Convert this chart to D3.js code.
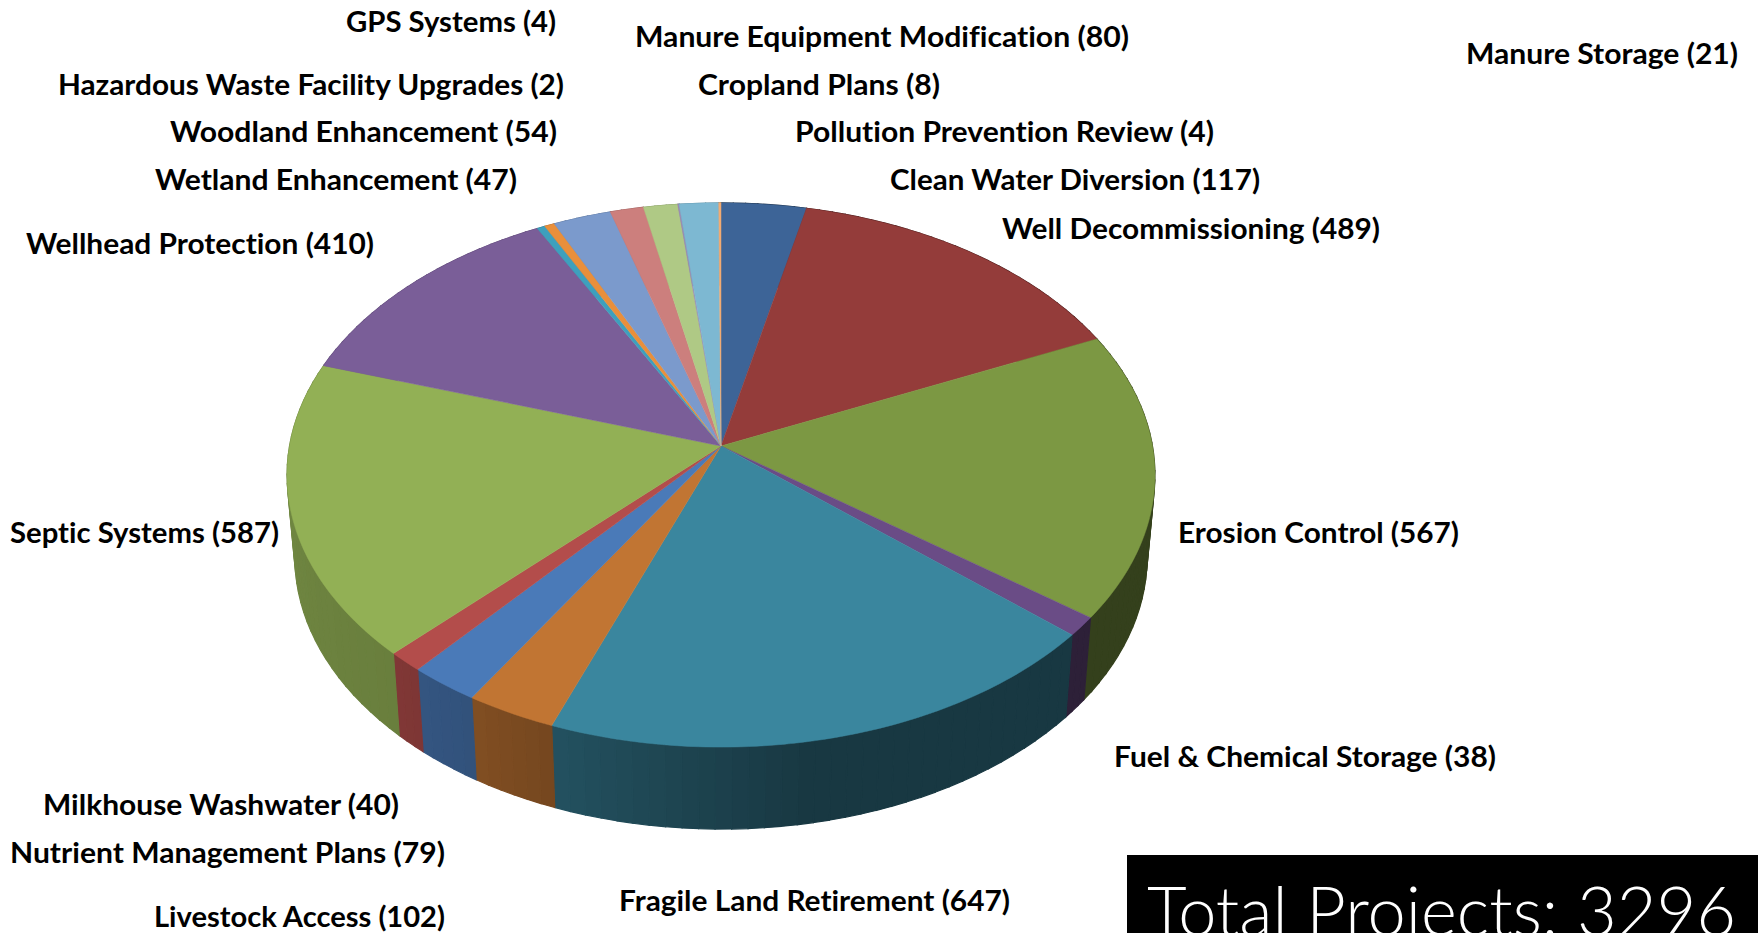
<!DOCTYPE html>
<html><head><meta charset="utf-8">
<script src="https://cdn.jsdelivr.net/npm/d3@7"></script>
<style>html,body{margin:0;padding:0;background:#fff;overflow:hidden}svg{display:block}text{font-variant-ligatures:none}</style>
</head><body><svg id="c" width="1758" height="933"></svg>
<script>
// Wedges clockwise from 12 o'clock: sizes (the wedges do not all agree with the printed counts).
const wedgeValues = [117,489,567,38,647,102,79,40,587,410,11,14,80,46,47,2,54,3];
const wedgeColors = ["#3d6497","#943c3a","#7c9843","#6a4c86","#3a869e","#c17533","#4a7ab8","#b34d4b","#92b055","#7a5e98","#3ea0bd","#e98f3b","#7b9acc","#cc7f7d","#afc985","#9d8ab3","#7db8d2","#f2ab73"];

// Labels exactly as printed
const labelNames = ["GPS Systems","Manure Equipment Modification","Hazardous Waste Facility Upgrades","Cropland Plans","Woodland Enhancement","Pollution Prevention Review","Wetland Enhancement","Clean Water Diversion","Well Decommissioning","Wellhead Protection","Manure Storage","Septic Systems","Erosion Control","Fuel & Chemical Storage","Milkhouse Washwater","Nutrient Management Plans","Livestock Access","Fragile Land Retirement"];
const labelCounts = [4,80,2,8,54,4,47,117,489,410,21,587,567,38,40,79,102,647];
const totalProjects = 3296;

// Layout (separate from the data): left, right, vertical centre of each label
const labelBoxes = [[346,556,23],[635,1129,38],[58,564,86],[698,940,86],[170,557,133],[795,1214,133],[155,517,181],[890,1260,181],[1002,1380,230],[26,374,245],[1466,1738,55],[10,279,534],[1178,1459,534],[1114,1496,758],[43,399,806],[10,445,854],[154,445,918],[619,1010,902]];

const svg = d3.select("#c");
const cx = 721, cy = 446, A = 431.5, B = 269, k = 0.1066, wallDrop = 82, wallShrink = 0.982;

// Perspective view of the pie's circle
function rim(a){
  const u = Math.sin(a), v = -Math.cos(a), w = 1 - k*v;
  return [cx + A*u/w, cy + B*v/w];
}
const low = p => [cx + (p[0]-cx)*wallShrink, p[1] + wallDrop];
const shade = d3.scaleLinear().domain([0,170,200,210,225,260,360]).range([.42,.42,.6,.66,.72,.76,.76]);
const line = d3.line();
const arcs = d3.pie().sort(null).value(d=>d)(wedgeValues);

// Side wall, drawn as narrow facets so shading can vary round the rim
const walls = svg.append("g");
arcs.forEach((d,i)=>{
  const n = Math.max(1, Math.ceil((d.endAngle-d.startAngle)/(Math.PI/90)));
  d3.range(n).forEach(j=>{
    const a0 = d.startAngle + (d.endAngle-d.startAngle)*j/n;
    const a1 = d.startAngle + (d.endAngle-d.startAngle)*(j+1)/n;
    const deg = (a0+a1)/2*180/Math.PI;
    const p0 = rim(a0), p1 = rim(a1);
    const col = d3.interpolateRgb("#000", wedgeColors[i])(shade(deg));
    walls.append("path").attr("d", line([p0,p1,low(p1),low(p0)])+"Z").attr("fill",col).attr("stroke",col).attr("stroke-width",1.2);
  });
});

// Top face
svg.append("g").selectAll("path").data(arcs).join("path")
  .attr("d", d=>{
    const n = Math.max(2, Math.ceil((d.endAngle-d.startAngle)/(Math.PI/180)));
    const pts = [[cx,cy]];
    d3.range(n+1).forEach(j=>pts.push(rim(d.startAngle+(d.endAngle-d.startAngle)*j/n)));
    return line(pts)+"Z";
  })
  .attr("fill",(d,i)=>wedgeColors[i]).attr("stroke",(d,i)=>wedgeColors[i]).attr("stroke-width",.5);

// Labels
svg.append("g").selectAll("text").data(labelNames).join("text")
  .attr("x",(d,i)=>labelBoxes[i][0]).attr("y",(d,i)=>labelBoxes[i][2]+9)
  .attr("textLength",(d,i)=>labelBoxes[i][1]-labelBoxes[i][0]).attr("lengthAdjust","spacingAndGlyphs")
  .attr("font-family","Lato").attr("font-weight",700).attr("font-size",28.5).attr("fill","#000")
  .text((d,i)=>`${d} (${labelCounts[i]})`);

// Total box
svg.append("rect").attr("x",1127).attr("y",855).attr("width",631).attr("height",78).attr("fill","#000");
svg.append("text").attr("x",1147).attr("y",936).attr("textLength",589).attr("lengthAdjust","spacingAndGlyphs")
  .attr("font-family","Lato").attr("font-weight",300).attr("font-size",68).attr("fill","#fff")
  .text(`Total Projects: ${totalProjects}`);
</script></body></html>
